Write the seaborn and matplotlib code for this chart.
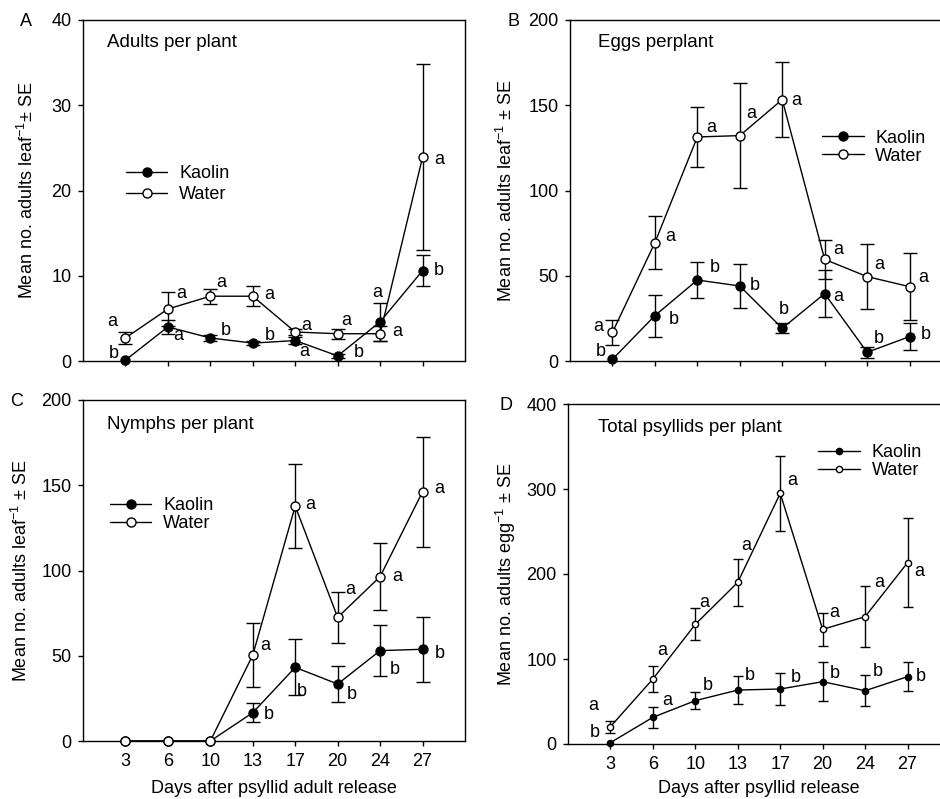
import numpy as np
import pandas as pd
import matplotlib
matplotlib.use("Agg")
import matplotlib.pyplot as plt
import seaborn as sns

# ---------------- data ----------------
days = ["3", "6", "10", "13", "17", "20", "24", "27"]

adults_kaolin = [0.1, 4.0, 2.7, 2.1, 2.4, 0.6, 4.6, 10.6]
adults_kaolin_se = [0.0, 0.8, 0.4, 0.2, 0.4, 0.2, 2.2, 1.8]
adults_water = [2.7, 6.1, 7.6, 7.6, 3.4, 3.2, 3.2, 23.9]
adults_water_se = [0.7, 2.0, 0.9, 1.2, 0.3, 0.6, 0.9, 10.9]
adults_kaolin_letters = ["b", "a", "b", "b", "a", "b", "a", "b"]
adults_water_letters = ["a", "a", "a", "a", "a", "a", "a", "a"]

eggs_kaolin = [1.0, 26.6, 47.5, 44.0, 19.2, 39.5, 5.1, 14.3]
eggs_kaolin_se = [0.0, 12.3, 10.3, 13.0, 3.0, 13.7, 3.3, 7.8]
eggs_water = [16.8, 69.4, 131.4, 132.2, 153.3, 59.6, 49.5, 43.6]
eggs_water_se = [7.3, 15.5, 17.6, 30.8, 22.0, 11.5, 19.0, 19.8]
eggs_kaolin_letters = ["b", "b", "b", "b", "b", "a", "b", "b"]
eggs_water_letters = ["a", "a", "a", "a", "a", "a", "a", "a"]

nymphs_kaolin = [0.0, 0.0, 0.0, 16.6, 43.2, 33.4, 53.0, 53.8]
nymphs_kaolin_se = [0.0, 0.0, 0.0, 5.4, 16.5, 10.4, 15.0, 19.0]
nymphs_water = [0.0, 0.0, 0.0, 50.4, 137.8, 72.5, 96.4, 146.2]
nymphs_water_se = [0.0, 0.0, 0.0, 19.0, 24.5, 15.0, 19.5, 32.3]
nymphs_kaolin_letters = ["", "", "", "b", "b", "b", "b", "b"]
nymphs_water_letters = ["", "", "", "a", "a", "a", "a", "a"]

total_kaolin = [1.6, 31.4, 51.0, 63.5, 64.7, 73.3, 62.7, 79.2]
total_kaolin_se = [0.0, 12.7, 9.8, 16.6, 18.4, 23.0, 18.0, 17.0]
total_water = [20.4, 76.5, 140.8, 190.2, 294.9, 134.9, 149.8, 213.3]
total_water_se = [7.0, 15.7, 19.0, 28.0, 44.0, 19.6, 35.7, 52.0]
total_kaolin_letters = ["b", "a", "b", "b", "b", "b", "b", "b"]
total_water_letters = ["a", "a", "a", "a", "a", "a", "a", "a"]

# ---------------- style ----------------
sns.set_style("ticks")
plt.rcParams["font.family"] = ["Liberation Sans", "DejaVu Sans"]
plt.rcParams["mathtext.default"] = "regular"
plt.rcParams["text.color"] = "black"
plt.rcParams["axes.labelcolor"] = "black"
plt.rcParams["xtick.color"] = "black"
plt.rcParams["ytick.color"] = "black"
plt.rcParams["xtick.labelcolor"] = "black"
plt.rcParams["ytick.labelcolor"] = "black"
FS = 13

# letter offsets in pixels (dx, dy up)
offs_A_k = [(-12, 7), (10, -9), (15, 7), (17, 8), (9, -11), (21, 3), (-3, 29), (16, 0)]
offs_A_w = [(-13, 16), (13, 15), (11, 14), (16, 2), (11, 7), (9, 13), (17, 2), (17, -2)]
offs_B_k = [(-12, 8), (19, -4), (17, 13), (15, 0), (2, 19), (14, -3), (12, 14), (16, 2)]
offs_B_w = [(-14, 6), (15, 6), (14, 9), (11, 22), (14, -1), (14, 10), (12, 12), (14, 9)]
offs_C_k = [(0, 0)] * 3 + [(16, -2), (7, -24), (14, -10), (15, -19), (17, -4)]
offs_C_w = [(0, 0)] * 3 + [(12, 10), (15, 2), (13, 28), (17, 0), (17, 3)]
offs_D_k = [(-16, 10), (14, 17), (12, 15), (12, 15), (16, 12), (12, 8), (13, 19), (13, 0)]
offs_D_w = [(-17, 21), (9, 28), (9, 22), (8, 37), (12, 13), (12, 17), (14, 34), (12, -9)]

fig = plt.figure(figsize=(9.4, 7.99), dpi=100)
W, H = 940, 799


def make_ax(left, top, right, bottom):
    return fig.add_axes([left / W, 1 - bottom / H, (right - left) / W, (bottom - top) / H])


panels = [
    dict(ax=make_ax(83, 20, 465, 361), k=adults_kaolin, kse=adults_kaolin_se, w=adults_water,
         wse=adults_water_se, kl=adults_kaolin_letters, wl=adults_water_letters,
         ok=offs_A_k, ow=offs_A_w, ymax=40, ystep=10, title="Adults per plant",
         letter="A", lpos=(-0.149, 0.997), ylabel="Mean no. adults leaf$^{-1}$± SE",
         ylx=-0.147, xlabel=None, xly=None,
         leg=(0.112, 0.575), ls=0.22, ms=6.5, cap=5, tpos=(0.063, 0.933)),
    dict(ax=make_ax(570, 20, 952, 361), k=eggs_kaolin, kse=eggs_kaolin_se, w=eggs_water,
         wse=eggs_water_se, kl=eggs_kaolin_letters, wl=eggs_water_letters,
         ok=offs_B_k, ow=offs_B_w, ymax=200, ystep=50, title="Eggs perplant",
         letter="B", lpos=(-0.149, 0.997), ylabel="Mean no. adults leaf$^{-1}$ ± SE",
         ylx=-0.168, xlabel=None, xly=None,
         leg=(0.66, 0.678), ls=0.05, ms=6.5, cap=5, tpos=(0.073, 0.933)),
    dict(ax=make_ax(83, 400, 465, 741), k=nymphs_kaolin, kse=nymphs_kaolin_se, w=nymphs_water,
         wse=nymphs_water_se, kl=nymphs_kaolin_letters, wl=nymphs_water_letters,
         ok=offs_C_k, ow=offs_C_w, ymax=200, ystep=50, title="Nymphs per plant",
         letter="C", lpos=(-0.173, 0.997), ylabel="Mean no. adults leaf$^{-1}$ ± SE",
         ylx=-0.162, xlabel="Days after psyllid adult release", xly=-0.138,
         leg=(0.07, 0.715), ls=0.05, ms=6.5, cap=5, tpos=(0.063, 0.927)),
    dict(ax=make_ax(568, 404, 950, 744), k=total_kaolin, kse=total_kaolin_se, w=total_water,
         wse=total_water_se, kl=total_kaolin_letters, wl=total_water_letters,
         ok=offs_D_k, ow=offs_D_w, ymax=400, ystep=100, title="Total psyllids per plant",
         letter="D", lpos=(-0.162, 0.997), ylabel="Mean no. adults egg$^{-1}$ ± SE",
         ylx=-0.162, xlabel="Days after psyllid release", xly=-0.132,
         leg=(0.655, 0.881), ls=0.05, ms=4.5, cap=3.75, tpos=(0.079, 0.932)),
]

pos = np.arange(len(days))

for p in panels:
    ax = p["ax"]
    df = pd.DataFrame({"pos": pos, "Kaolin": p["k"], "Water": p["w"]})
    for ys, es in ((p["k"], p["kse"]), (p["w"], p["wse"])):
        ys = np.asarray(ys)
        es = np.asarray(es)
        m = es > 0
        ax.errorbar(pos[m], ys[m], yerr=es[m], fmt="none", ecolor="black", elinewidth=1,
                    capsize=p["cap"], capthick=1, zorder=2, clip_on=False)
    sns.lineplot(data=df, x="pos", y="Kaolin", ax=ax, color="black", lw=1, marker="o",
                 markersize=p["ms"], markerfacecolor="black", markeredgecolor="black",
                 markeredgewidth=1, label="Kaolin", zorder=3, clip_on=False)
    sns.lineplot(data=df, x="pos", y="Water", ax=ax, color="black", lw=1, marker="o",
                 markersize=p["ms"], markerfacecolor="white", markeredgecolor="black",
                 markeredgewidth=1, label="Water", zorder=4, clip_on=False)

    for i in range(len(days)):
        if p["kl"][i]:
            ax.annotate(p["kl"][i], (pos[i], p["k"][i]), xytext=p["ok"][i],
                        textcoords="offset pixels", ha="center", va="center", fontsize=FS,
                        color="black")
        if p["wl"][i]:
            ax.annotate(p["wl"][i], (pos[i], p["w"][i]), xytext=p["ow"][i],
                        textcoords="offset pixels", ha="center", va="center", fontsize=FS,
                        color="black")

    ax.set_xlim(-1, 8)
    ax.set_ylim(0, p["ymax"])
    ax.set_yticks(np.arange(0, p["ymax"] + 1, p["ystep"]))
    ax.set_xticks(pos)
    if p["xlabel"]:
        ax.set_xticklabels(days)
        ax.set_xlabel(p["xlabel"], fontsize=FS, color="black")
        ax.xaxis.set_label_coords(0.5, p["xly"])
        ax.xaxis.label.set_va("center")
    else:
        ax.set_xticklabels([])
        ax.set_xlabel("")
    ax.set_ylabel(p["ylabel"], fontsize=FS, color="black")
    ax.yaxis.set_label_coords(p["ylx"], 0.5)
    ax.yaxis.label.set_va("center")
    ax.tick_params(axis="both", direction="out", length=3.8, width=1, labelsize=FS, pad=4.5,
                   color="black", labelcolor="black")
    for s in ax.spines.values():
        s.set_visible(True)
        s.set_linewidth(1)
        s.set_color("black")
    ax.text(p["tpos"][0], p["tpos"][1], p["title"], transform=ax.transAxes, fontsize=13.5,
            ha="left", va="center", color="black")
    ax.text(p["lpos"][0], p["lpos"][1], p["letter"], transform=ax.transAxes, fontsize=FS,
            ha="center", va="center", color="black")
    leg = ax.legend(loc="upper left", bbox_to_anchor=p["leg"], frameon=False, fontsize=FS,
                    handlelength=2.3, handletextpad=0.65, labelspacing=p["ls"], borderpad=0,
                    borderaxespad=0)
    for t in leg.get_texts():
        t.set_color("black")

fig.savefig("out.png", dpi=100)
